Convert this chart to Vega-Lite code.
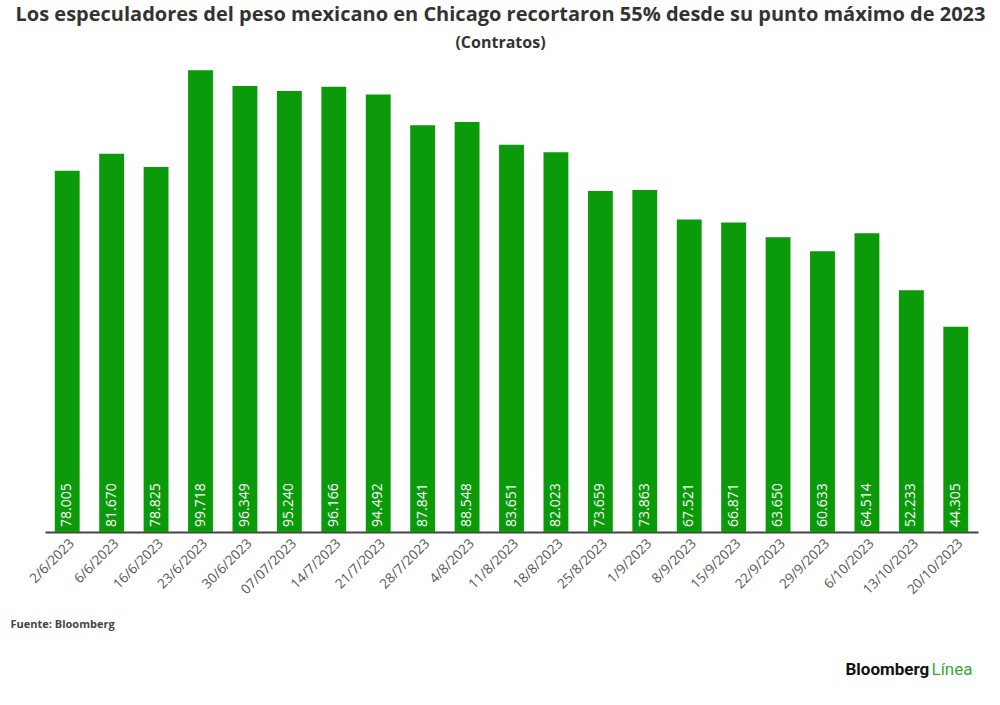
{
  "$schema": "https://vega.github.io/schema/vega-lite/v6.json",
  "autosize": "none",
  "width": 933,
  "height": 463,
  "padding": {"left": 45, "top": 69, "right": 22, "bottom": 173},
  "background": "white",
  "title": {
    "text": "Los especuladores del peso mexicano en Chicago recortaron 55% desde su punto máximo de 2023",
    "subtitle": "(Contratos)",
    "font": "Open Sans",
    "fontSize": 20,
    "fontWeight": "bold",
    "color": "#333333",
    "subtitleFont": "Open Sans",
    "subtitleFontSize": 16,
    "subtitleFontWeight": "bold",
    "subtitleColor": "#333333",
    "subtitlePadding": 10,
    "anchor": "middle",
    "frame": "group",
    "dx": -11,
    "offset": 18
  },
  "data": {
    "values": [
      {"fecha": "2/6/2023", "contratos": 78.005},
      {"fecha": "6/6/2023", "contratos": 81.670},
      {"fecha": "16/6/2023", "contratos": 78.825},
      {"fecha": "23/6/2023", "contratos": 99.718},
      {"fecha": "30/6/2023", "contratos": 96.349},
      {"fecha": "07/07/2023", "contratos": 95.240},
      {"fecha": "14/7/2023", "contratos": 96.166},
      {"fecha": "21/7/2023", "contratos": 94.492},
      {"fecha": "28/7/2023", "contratos": 87.841},
      {"fecha": "4/8/2023", "contratos": 88.548},
      {"fecha": "11/8/2023", "contratos": 83.651},
      {"fecha": "18/8/2023", "contratos": 82.023},
      {"fecha": "25/8/2023", "contratos": 73.659},
      {"fecha": "1/9/2023", "contratos": 73.863},
      {"fecha": "8/9/2023", "contratos": 67.521},
      {"fecha": "15/9/2023", "contratos": 66.871},
      {"fecha": "22/9/2023", "contratos": 63.650},
      {"fecha": "29/9/2023", "contratos": 60.633},
      {"fecha": "6/10/2023", "contratos": 64.514},
      {"fecha": "13/10/2023", "contratos": 52.233},
      {"fecha": "20/10/2023", "contratos": 44.305}
    ]
  },
  "encoding": {
    "x": {
      "field": "fecha",
      "type": "nominal",
      "sort": null,
      "scale": {"paddingInner": 0.44, "paddingOuter": 0.22},
      "axis": {
        "title": "Fuente: Bloomberg",
        "titleFont": "Open Sans",
        "titleFontSize": 11,
        "titleFontWeight": "bold",
        "titleColor": "#444444",
        "titleAnchor": "start",
        "titleAlign": "left",
        "titleBaseline": "middle",
        "titleX": -35,
        "titleY": 92,
        "labelAngle": -45,
        "labelFont": "Open Sans",
        "labelFontSize": 13.5,
        "labelColor": "#555555",
        "labelPadding": 4,
        "ticks": false,
        "domainColor": "#444444",
        "domainWidth": 2
      }
    },
    "y": {
      "field": "contratos",
      "type": "quantitative",
      "scale": {"domain": [0, 100], "nice": false},
      "axis": {
        "title": "Bloomberg",
        "titleFont": "Roboto",
        "titleFontSize": 17,
        "titleFontWeight": "bold",
        "titleColor": "#111111",
        "titleAngle": 0,
        "titleAlign": "left",
        "titleBaseline": "middle",
        "titleX": 800,
        "titleY": 600,
        "labels": false,
        "ticks": false,
        "domain": false,
        "grid": false
      }
    }
  },
  "layer": [
    {
      "mark": {"type": "bar", "color": "#0a9a0a"}
    },
    {
      "mark": {
        "type": "text",
        "angle": -90,
        "align": "left",
        "baseline": "middle",
        "dx": 5,
        "font": "Open Sans",
        "fontSize": 14,
        "color": "white"
      },
      "encoding": {
        "y": {"datum": 0, "type": "quantitative"},
        "text": {"field": "contratos", "type": "quantitative", "format": ".3f"}
      }
    },
    {
      "mark": {"type": "rule", "opacity": 0},
      "encoding": {
        "y": {
          "field": "contratos",
          "type": "quantitative",
          "axis": {
            "orient": "right",
            "title": "Línea",
            "titleFont": "Roboto",
            "titleFontSize": 17,
            "titleFontWeight": "normal",
            "titleColor": "#3aa83a",
            "titleAngle": 0,
            "titleAlign": "left",
            "titleBaseline": "middle",
            "titleX": -47,
            "titleY": 600,
            "labels": false,
            "ticks": false,
            "domain": false,
            "grid": false
          }
        }
      }
    }
  ],
  "resolve": {"scale": {"y": "shared"}, "axis": {"y": "independent"}},
  "config": {"view": {"stroke": null}}
}
